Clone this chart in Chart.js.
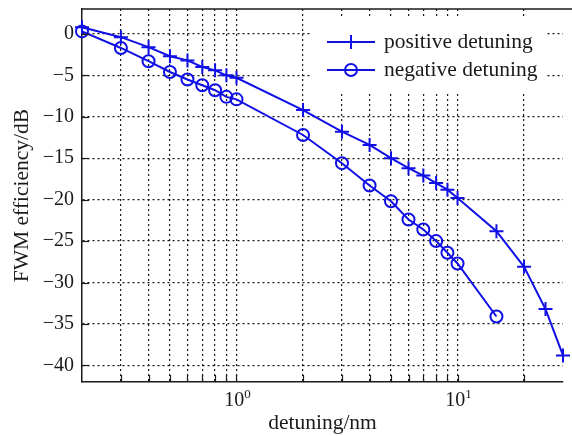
<!DOCTYPE html>
<html>
<head>
<meta charset="utf-8">
<script src="https://cdn.jsdelivr.net/npm/chart.js@4/dist/chart.umd.min.js"></script>
<style>
  html, body { margin: 0; padding: 0; background: #fff; }
  #wrap { width: 572px; height: 436px; }
</style>
</head>
<body>
<div id="wrap"><canvas id="chart" width="572" height="436"></canvas></div>
<script>
// data (detuning in nm, efficiency in dB)
const posDetuning = [0.2, 0.3, 0.4, 0.5, 0.6, 0.7, 0.8, 0.9, 1, 2, 3, 4, 5, 6, 7, 8, 9, 10, 15, 20, 25, 30];
const posEff = [0.8, -0.4, -1.6, -2.7, -3.2, -4.0, -4.4, -5.0, -5.3, -9.2, -11.8, -13.4, -15.0, -16.2, -17.1, -18.0, -18.8, -19.8, -23.8, -28.1, -33.2, -38.8];
const negDetuning = [0.2, 0.3, 0.4, 0.5, 0.6, 0.7, 0.8, 0.9, 1, 2, 3, 4, 5, 6, 7, 8, 9, 10, 15];
const negEff = [0.3, -1.7, -3.3, -4.6, -5.5, -6.2, -6.8, -7.6, -7.9, -12.2, -15.6, -18.3, -20.2, -22.4, -23.6, -25.0, -26.4, -27.7, -34.1];

const seriesLabels = ['positive detuning', 'negative detuning'];
const xGridTicks = [0.3, 0.4, 0.5, 0.6, 0.7, 0.8, 0.9, 1, 2, 3, 4, 5, 6, 7, 8, 9, 10, 20];
const xDecades = [1, 10];
const xDecadeExp = ['0', '1'];
const yTicks = [-40, -35, -30, -25, -20, -15, -10, -5, 0];

const blue = 'rgb(15,15,230)';
const ink = '#1a1a1a';
const serif = "'Liberation Serif', 'Times New Roman', serif";

const toPoints = (xs, ys) => xs.map((x, i) => ({ x: x, y: ys[i] }));

// top border, inward ticks, decade labels, legend box
const extras = {
  id: 'extras',
  afterDraw(chart) {
    const ctx = chart.ctx;
    const area = chart.chartArea;
    const xs = chart.scales.x;
    const ys = chart.scales.y;
    ctx.save();
    ctx.strokeStyle = ink;
    ctx.lineWidth = 1.5;
    ctx.beginPath();
    ctx.moveTo(area.left, area.top);
    ctx.lineTo(chart.width, area.top);
    ctx.stroke();

    ctx.lineWidth = 1.2;
    xGridTicks.forEach(v => {
      const px = Math.round(xs.getPixelForValue(v)) + 0.5;
      ctx.beginPath();
      ctx.moveTo(px, area.bottom);
      ctx.lineTo(px, area.bottom - 7);
      ctx.stroke();
    });
    yTicks.forEach(v => {
      const py = Math.round(ys.getPixelForValue(v)) + 0.5;
      ctx.beginPath();
      ctx.moveTo(area.left, py);
      ctx.lineTo(area.left + 7, py);
      ctx.stroke();
    });

    // 10^n labels
    ctx.fillStyle = ink;
    ctx.textBaseline = 'alphabetic';
    ctx.textAlign = 'left';
    xDecades.forEach((v, i) => {
      const px = xs.getPixelForValue(v);
      ctx.font = '20px ' + serif;
      const wb = ctx.measureText('10').width;
      ctx.font = '13px ' + serif;
      const we = ctx.measureText(xDecadeExp[i]).width;
      const x0 = px + 1 - (wb + we) / 2;
      ctx.font = '20px ' + serif;
      ctx.fillText('10', x0, 406);
      ctx.font = '13px ' + serif;
      ctx.fillText(xDecadeExp[i], x0 + wb, 398);
    });

    // legend
    ctx.fillStyle = '#fff';
    ctx.fillRect(312, 16, 235, 76);
    const styles = ['cross', 'circle'];
    const radii = [7, 6];
    seriesLabels.forEach((label, i) => {
      const yy = 42 + i * 28;
      ctx.strokeStyle = blue;
      ctx.fillStyle = 'rgba(0,0,0,0)';
      ctx.lineWidth = 2;
      ctx.beginPath();
      ctx.moveTo(327, yy);
      ctx.lineTo(375, yy);
      ctx.stroke();
      Chart.helpers.drawPoint(ctx, { pointStyle: styles[i], radius: radii[i], borderWidth: 2 }, 351, yy);
      ctx.fillStyle = ink;
      ctx.font = '21.5px ' + serif;
      ctx.textBaseline = 'middle';
      ctx.fillText(label, 384, yy);
    });
    ctx.restore();
  }
};

new Chart(document.getElementById('chart'), {
  type: 'line',
  data: {
    datasets: [
      {
        label: seriesLabels[0],
        data: toPoints(posDetuning, posEff),
        borderColor: blue,
        backgroundColor: 'transparent',
        borderWidth: 2,
        pointStyle: 'cross',
        pointRadius: 7,
        pointBorderWidth: 2,
        pointBorderColor: blue,
        tension: 0,
        clip: false
      },
      {
        label: seriesLabels[1],
        data: toPoints(negDetuning, negEff),
        borderColor: blue,
        backgroundColor: 'transparent',
        borderWidth: 2,
        pointStyle: 'circle',
        pointRadius: 6,
        pointBorderWidth: 2,
        pointBorderColor: blue,
        pointBackgroundColor: 'transparent',
        tension: 0,
        clip: false
      }
    ]
  },
  options: {
    responsive: false,
    animation: false,
    devicePixelRatio: 1,
    layout: { padding: { left: 0, top: 9, right: 2, bottom: 0 } },
    scales: {
      x: {
        type: 'logarithmic',
        min: 0.2,
        max: 30,
        afterBuildTicks: s => { s.ticks = xGridTicks.map(v => ({ value: v })); },
        afterFit: s => {
          s.height = 54;
          s.paddingLeft = 0; s.paddingRight = 0;
        },
        ticks: { display: false },
        grid: { color: 'rgba(0,0,0,0.9)', lineWidth: 1.2, drawTicks: false },
        border: { display: true, color: ink, width: 1.5, dash: [2, 3] },
        title: {
          display: true,
          text: 'detuning/nm',
          color: ink,
          font: { family: serif, size: 21.5 },
          padding: { top: 0, bottom: 0 }
        }
      },
      y: {
        min: -42,
        max: 3,
        afterBuildTicks: s => { s.ticks = yTicks.map(v => ({ value: v })); },
        afterFit: s => {
          s.width = 82;
          s.paddingTop = 0; s.paddingBottom = 0;
        },
        ticks: {
          padding: 8,
          color: ink,
          font: { family: serif, size: 20 },
          callback: v => v < 0 ? '\u2212' + Math.abs(v) : String(v)
        },
        grid: { color: 'rgba(0,0,0,0.9)', lineWidth: 1.2, drawTicks: false },
        border: { display: true, color: ink, width: 1.5, dash: [2, 3] },
        title: {
          display: true,
          text: 'FWM efficiency/dB',
          color: ink,
          font: { family: serif, size: 21.5 },
          padding: { top: 9, bottom: 0 }
        }
      }
    },
    plugins: {
      legend: { display: false },
      tooltip: { enabled: false }
    }
  },
  plugins: [extras]
});
</script>
</body>
</html>
